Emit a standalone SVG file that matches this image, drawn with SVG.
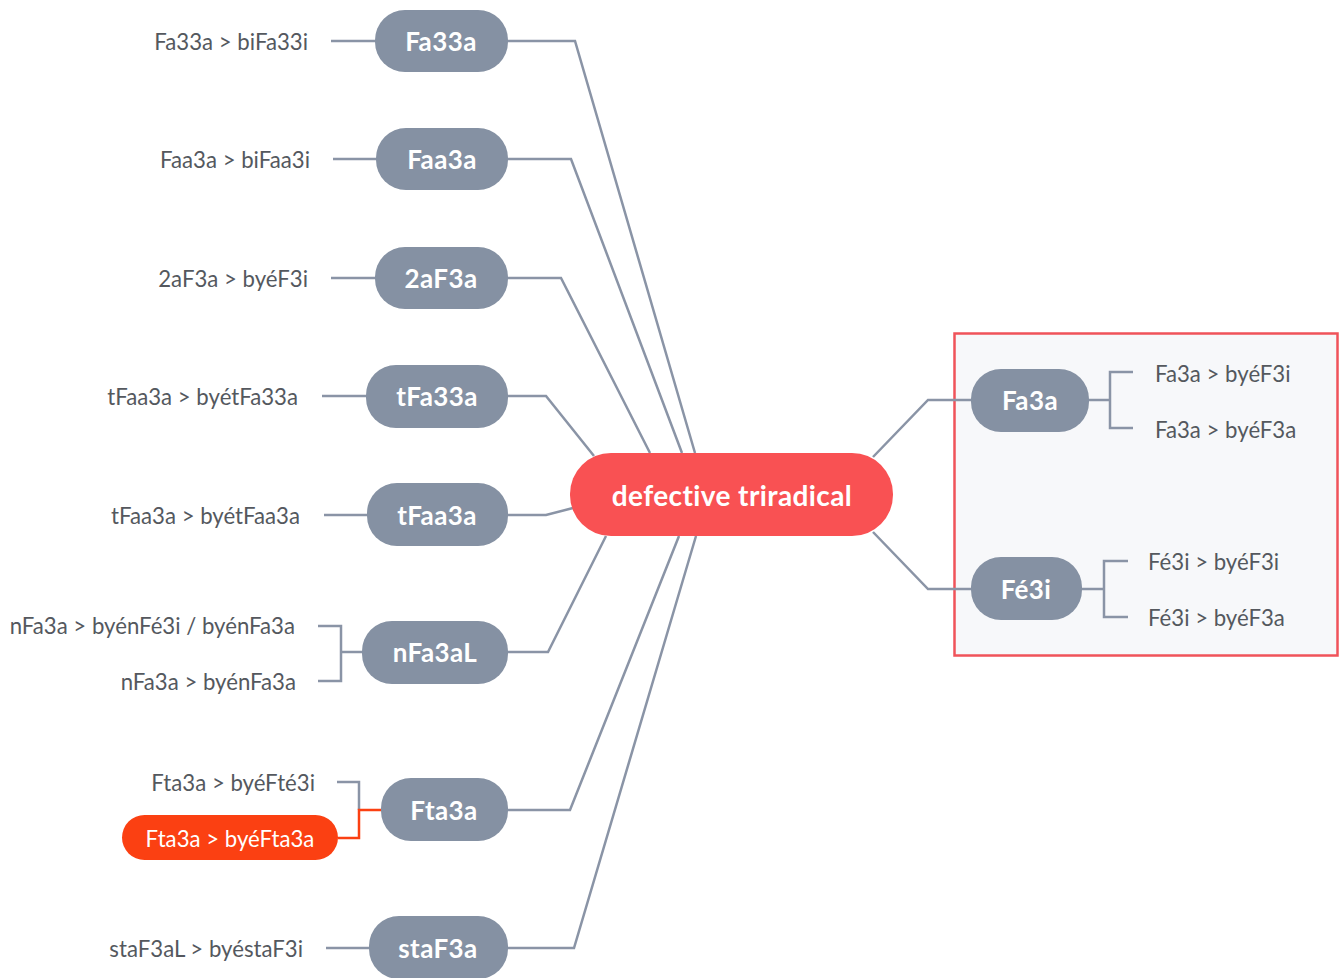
<svg xmlns="http://www.w3.org/2000/svg" width="1341" height="978" viewBox="0 0 1341 978">
<style>
.n{fill:#8591a3}
.nt{fill:#fff;font-family:Lato,"Open Sans",sans-serif;font-weight:700;font-size:26px;letter-spacing:0.4px;text-anchor:middle;dominant-baseline:central}
.lb{fill:#54585e;font-family:Lato,"Open Sans",sans-serif;font-size:22.2px;dominant-baseline:central}
.r{text-anchor:end}
.c{fill:none;stroke:#8a94a6;stroke-width:2.5}
.o{fill:none;stroke:#fb4012;stroke-width:2.5}
</style>
<rect width="1341" height="978" fill="#fff"/>
<rect x="954.5" y="333.5" width="383" height="322" fill="#f7f8fa" stroke="#f0535a" stroke-width="2.5"/>
<g id="connectors">
<polyline class="c" points="508,41 575,41 695,453"/>
<polyline class="c" points="508,159 571,159 682,453"/>
<polyline class="c" points="508,278 561,278 650,453"/>
<polyline class="c" points="508,396 546,396 594,456"/>
<polyline class="c" points="508,515 546,515 573,508"/>
<polyline class="c" points="508,652 548,652 606,536"/>
<polyline class="c" points="508,810 570,810 679,536"/>
<polyline class="c" points="508,948 574,948 696,536"/>
<polyline class="c" points="873,457 928,400 971,400"/>
<polyline class="c" points="873,532 928,589 971,589"/>
<line class="c" x1="331" y1="41" x2="375" y2="41"/>
<line class="c" x1="333" y1="159" x2="376" y2="159"/>
<line class="c" x1="331" y1="278" x2="375" y2="278"/>
<line class="c" x1="322" y1="396" x2="366" y2="396"/>
<line class="c" x1="324" y1="515" x2="367" y2="515"/>
<polyline class="c" points="318,626 341,626 341,681 318,681"/>
<line class="c" x1="341" y1="652" x2="362" y2="652"/>
<polyline class="c" points="337,782 359,782 359,810"/>
<polyline class="o" points="338,838 359,838 359,810 381,810"/>
<line class="c" x1="326" y1="948" x2="369" y2="948"/>
<polyline class="c" points="1133,372 1110,372 1110,428 1133,428"/>
<line class="c" x1="1089" y1="400" x2="1110" y2="400"/>
<polyline class="c" points="1128,561 1104,561 1104,617 1128,617"/>
<line class="c" x1="1082" y1="589" x2="1104" y2="589"/>
</g>
<g id="center"><rect x="570" y="453" width="323" height="83" rx="41" fill="#f95153"/><text class="nt" x="732" y="495" style="font-size:28px;letter-spacing:0.4px">defective triradical</text></g>
<g id="n-Fa33a"><rect class="n" x="375" y="10" width="133" height="62" rx="30"/><text class="nt" x="441" y="41">Fa33a</text><text class="lb r" x="308" y="41">Fa33a &gt; biFa33i</text></g>
<g id="n-Faa3a"><rect class="n" x="376" y="128" width="132" height="62" rx="30"/><text class="nt" x="442" y="159">Faa3a</text><text class="lb r" x="310" y="159">Faa3a &gt; biFaa3i</text></g>
<g id="n-2aF3a"><rect class="n" x="375" y="247" width="133" height="62" rx="30"/><text class="nt" x="441" y="278">2aF3a</text><text class="lb r" x="308" y="278">2aF3a &gt; byéF3i</text></g>
<g id="n-tFa33a"><rect class="n" x="366" y="365" width="142" height="63" rx="30"/><text class="nt" x="437" y="396">tFa33a</text><text class="lb r" x="298" y="396">tFaa3a &gt; byétFa33a</text></g>
<g id="n-tFaa3a"><rect class="n" x="367" y="483" width="141" height="63" rx="30"/><text class="nt" x="437" y="515">tFaa3a</text><text class="lb r" x="300" y="515">tFaa3a &gt; byétFaa3a</text></g>
<g id="n-nFa3aL"><rect class="n" x="362" y="621" width="146" height="63" rx="30"/><text class="nt" x="435" y="652">nFa3aL</text><text class="lb r" x="295" y="625">nFa3a &gt; byénFé3i / byénFa3a</text><text class="lb r" x="296" y="681">nFa3a &gt; byénFa3a</text></g>
<g id="n-Fta3a"><rect class="n" x="381" y="778" width="127" height="63" rx="30"/><text class="nt" x="444" y="810">Fta3a</text><text class="lb r" x="315" y="782">Fta3a &gt; byéFté3i</text></g>
<g id="n-Fta3a-hl"><rect x="122" y="815" width="216" height="45" rx="22.5" fill="#fb4012"/><text class="lb" x="230" y="838" text-anchor="middle" style="fill:#fff">Fta3a &gt; byéFta3a</text></g>
<g id="n-staF3a"><rect class="n" x="369" y="916" width="139" height="63" rx="30"/><text class="nt" x="438" y="948">staF3a</text><text class="lb r" x="303" y="948">staF3aL &gt; byéstaF3i</text></g>
<g id="n-Fa3a"><rect class="n" x="971" y="369" width="118" height="63" rx="30"/><text class="nt" x="1030" y="400">Fa3a</text><text class="lb" x="1155" y="373">Fa3a &gt; byéF3i</text><text class="lb" x="1155" y="429">Fa3a &gt; byéF3a</text></g>
<g id="n-Fe3i"><rect class="n" x="971" y="557" width="111" height="63" rx="30"/><text class="nt" x="1026" y="589">Fé3i</text><text class="lb" x="1148" y="561">Fé3i &gt; byéF3i</text><text class="lb" x="1148" y="617">Fé3i &gt; byéF3a</text></g>
</svg>
